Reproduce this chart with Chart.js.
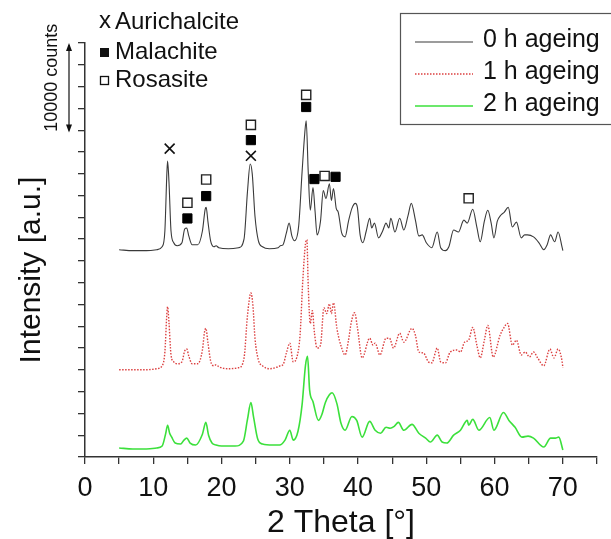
<!DOCTYPE html>
<html>
<head>
<meta charset="utf-8">
<script src="https://cdn.jsdelivr.net/npm/chart.js@4.4.0/dist/chart.umd.min.js"></script>
<style>
  html, body { margin: 0; padding: 0; background: #fff; }
  #wrap { width: 611px; height: 539px; position: relative; }
</style>
</head>
<body>
<div id="wrap"><canvas id="xrdChart"></canvas></div>
<script>
// 2 Theta positions and counts above baseline
const theta0 = [5, 7, 9, 10.5, 11.3, 11.7, 12, 12.1, 12.3, 12.6, 13, 13.5, 14.2, 14.6, 14.9, 15.2, 15.7, 16.5, 17.2, 17.6, 17.75, 18, 18.4, 18.9, 19.2, 19.6, 21, 22.5, 23.3, 23.8, 24.2, 24.5, 24.9, 25.4, 26, 27, 28.3, 28.6, 29, 29.5, 29.9, 30.3, 30.7, 31.3, 31.8, 32.2, 32.4, 32.7, 33, 33.4, 33.7, 34, 34.5, 34.9, 35.3, 35.8, 36.1, 36.4, 36.8, 37.1, 37.6, 38.1, 38.6, 39.1, 39.6, 39.9, 40.3, 40.7, 41.2, 41.7, 42, 42.4, 43, 43.6, 44.1, 44.5, 44.8, 45.4, 46.1, 46.7, 47.3, 47.8, 48.4, 48.9, 49.4, 50, 50.8, 51.6, 52.1, 52.8, 53.3, 54, 54.7, 55.5, 56, 56.8, 57.4, 57.9, 58.5, 59, 59.5, 59.9, 60.4, 60.9, 61.4, 62, 62.6, 63.2, 63.9, 64.4, 64.8, 65.7, 66.5, 67.2, 67.7, 68.2, 68.8, 69.3, 69.9, 70];
const counts0 = [110, 0, 0, 110, 440, 2200, 8800, 10000, 7700, 2200, 880, 550, 880, 2420, 2530, 1650, 660, 660, 2200, 4620, 4840, 3300, 1100, 440, 550, 330, 220, 330, 1320, 6600, 9680, 8580, 3850, 1100, 440, 220, 330, 550, 660, 1980, 3080, 1650, 1100, 2750, 8800, 13200, 14520, 8800, 4510, 7040, 4400, 1760, 3300, 6710, 5830, 7480, 5610, 6930, 4730, 4290, 1980, 1540, 3300, 4730, 5280, 4840, 1760, 880, 2200, 3630, 2530, 3080, 1430, 2200, 3080, 2530, 3630, 2090, 3630, 2310, 3850, 5280, 3410, 1650, 1760, 880, 330, 2090, 330, 0, 440, 2310, 2090, 3410, 3080, 4620, 2640, 990, 3300, 4510, 3080, 1430, 3300, 3960, 4290, 4840, 2640, 3190, 1430, 1760, 1760, 1540, 880, 110, 660, 1760, 990, 2090, 330, 0];

const theta1 = [5, 7, 9, 10.5, 11.3, 11.7, 12, 12.1, 12.3, 12.6, 13, 13.5, 14.2, 14.6, 14.9, 15.2, 15.7, 16.5, 17.2, 17.5, 17.7, 18, 18.4, 18.9, 19.2, 19.6, 21, 22.5, 23.3, 23.8, 24.3, 24.6, 24.9, 25.4, 26, 27, 28.3, 28.6, 29, 29.5, 30, 30.5, 31, 31.5, 31.9, 32.3, 32.5, 32.7, 33, 33.3, 33.6, 34, 34.5, 35, 35.4, 35.8, 36.1, 36.4, 36.9, 37.6, 38.1, 38.6, 39, 39.5, 39.9, 40.6, 41.7, 42.2, 42.5, 43.2, 44.1, 44.6, 45.2, 46.1, 46.7, 47.9, 48.4, 48.9, 49.6, 50.3, 50.8, 51.6, 52.1, 52.8, 53.5, 54.5, 55, 55.6, 56.2, 56.8, 57.4, 57.9, 58.5, 59, 59.8, 60.8, 61.3, 61.9, 62.6, 63.2, 63.9, 64.5, 65.1, 65.7, 66.3, 67.2, 68.1, 68.7, 69.3, 69.9, 70];
const counts1 = [0, 0, 0, 110, 440, 1980, 6380, 7040, 5280, 1650, 880, 660, 880, 2090, 2310, 1540, 660, 660, 2200, 4180, 4620, 3080, 990, 440, 550, 330, 110, 220, 1320, 6050, 8580, 7150, 3520, 1100, 440, 110, 330, 440, 550, 1870, 2970, 880, 1320, 3850, 9900, 14080, 14520, 9350, 5170, 6600, 4180, 2420, 2750, 6930, 6270, 7370, 6270, 7480, 4620, 2420, 1650, 3300, 5280, 6380, 4730, 1320, 3520, 2750, 2970, 1650, 3520, 3520, 2420, 4070, 3080, 4620, 3850, 1980, 1870, 880, 770, 2420, 880, 770, 1980, 2200, 1980, 3080, 3300, 4730, 2750, 1320, 3300, 4950, 1430, 3850, 4620, 5170, 2750, 3300, 1650, 1980, 1430, 1980, 1320, 440, 2310, 1320, 2310, 880, 220];

const theta2 = [5, 7, 9, 10.5, 11.3, 11.8, 12.1, 12.4, 12.7, 13.2, 14, 14.5, 14.9, 15.4, 16.2, 17.2, 17.7, 18.1, 18.6, 19.2, 20, 22, 23.2, 23.8, 24.3, 24.7, 25.3, 26, 27.5, 28.5, 29.3, 30, 30.5, 31.2, 31.8, 32.3, 32.6, 32.9, 33.4, 34.2, 34.7, 35.2, 35.8, 36.2, 36.9, 37.5, 38.1, 39.1, 39.8, 40.6, 41.7, 42.5, 43.3, 44.1, 44.7, 45.3, 45.9, 46.7, 47.9, 48.9, 49.9, 50.6, 51.6, 52.3, 53, 54, 55, 56, 56.2, 56.8, 57.7, 59.3, 59.9, 61.3, 62.1, 63, 64, 64.9, 65.7, 67.2, 68.2, 68.9, 69.4, 70];
const counts2 = [110, 0, 0, 110, 330, 1650, 2640, 1760, 1320, 660, 550, 990, 1210, 660, 440, 1650, 2970, 1540, 660, 440, 330, 330, 880, 3300, 5170, 3520, 1100, 550, 440, 440, 990, 2090, 990, 1980, 4950, 9350, 10340, 6600, 5280, 3190, 3850, 5170, 6050, 6270, 5060, 2860, 2090, 3630, 3190, 1320, 3080, 2090, 1760, 2420, 2310, 2530, 2970, 2090, 2750, 1760, 1210, 770, 1540, 770, 660, 1540, 2090, 3190, 2640, 3300, 2090, 3520, 2090, 4070, 3190, 2420, 1320, 1430, 1210, 220, 1210, 1210, 1320, -110];

// vertical stacking of the three patterns (counts)
const offsets = [21800, 8500, -350];
const seriesNames = ['0 h ageing', '1 h ageing', '2 h ageing'];

// phase reflections (2 Theta, counts)
const aurTheta = [12.4, 24.3];
const aurCounts = [33200, 32400];
const malTheta = [15.0, 17.75, 24.3, 32.4, 33.6, 36.7];
const malCounts = [25400, 27900, 34150, 37850, 29800, 30050];
const rosTheta = [15.0, 17.75, 24.3, 32.4, 35.1, 56.2];
const rosCounts = [27150, 29750, 35850, 39200, 30150, 27650];

const FONT = '"Liberation Sans", Arial, sans-serif';

document.addEventListener('DOMContentLoaded', function() {
    initXrdChart();
});

function toPoints(xs, ys, off) {
    return xs.map((x, i) => ({ x: x, y: ys[i] + off }));
}

function initXrdChart() {
    const ctx = document.getElementById('xrdChart').getContext('2d');

    const lineStyles = [
        { color: '#3a3a3a', width: 1.1, dash: [] },
        { color: '#dc4040', width: 1.4, dash: [1.5, 1.5] },
        { color: '#3be03b', width: 1.6, dash: [] }
    ];
    const patterns = [[theta0, counts0], [theta1, counts1], [theta2, counts2]];

    const datasets = patterns.map((p, i) => ({
        label: seriesNames[i],
        data: toPoints(p[0], p[1], offsets[i]),
        borderColor: lineStyles[i].color,
        borderWidth: lineStyles[i].width,
        borderDash: lineStyles[i].dash,
        pointRadius: 0,
        cubicInterpolationMode: 'monotone',
        fill: false
    }));

    // phase markers
    datasets.push({
        label: 'Aurichalcite',
        data: toPoints(aurTheta, aurCounts, 0),
        showLine: false,
        pointStyle: 'crossRot',
        pointRadius: 7,
        borderColor: '#111',
        borderWidth: 1.6,
        backgroundColor: '#111'
    });
    datasets.push({
        label: 'Malachite',
        data: toPoints(malTheta, malCounts, 0),
        showLine: false,
        pointStyle: 'rect',
        pointRadius: 6.5,
        borderColor: '#000',
        borderWidth: 1,
        backgroundColor: '#000'
    });
    datasets.push({
        label: 'Rosasite',
        data: toPoints(rosTheta, rosCounts, 0),
        showLine: false,
        pointStyle: 'rect',
        pointRadius: 6.5,
        borderColor: '#222',
        borderWidth: 1.4,
        backgroundColor: '#fff'
    });

    const extras = {
        id: 'extras',
        afterDraw(chart) {
            const c = chart.ctx;
            const ys = chart.scales.y;
            c.save();
            c.fillStyle = '#111';
            c.strokeStyle = '#111';

            // y title
            c.font = '30px ' + FONT;
            c.textAlign = 'center';
            c.textBaseline = 'middle';
            c.save();
            c.translate(32, 270);
            c.rotate(-Math.PI / 2);
            c.fillText('Intensity [a.u.]', 0, 0);
            c.restore();

            // 10000 counts scale bar
            const top = ys.getPixelForValue(45000);
            const bot = ys.getPixelForValue(35000);
            c.save();
            c.translate(52, (top + bot) / 2 - 10);
            c.rotate(-Math.PI / 2);
            c.font = '18px ' + FONT;
            c.fillText('10000 counts', 0, 0);
            c.restore();
            c.lineWidth = 1.2;
            c.beginPath();
            c.moveTo(69, top + 2);
            c.lineTo(69, bot - 2);
            c.stroke();
            [[top, 1], [bot, -1]].forEach(([yy, d]) => {
                c.beginPath();
                c.moveTo(69, yy);
                c.lineTo(66, yy + 8 * d);
                c.lineTo(72, yy + 8 * d);
                c.closePath();
                c.fill();
            });

            // phase key
            c.font = '24px ' + FONT;
            c.textAlign = 'left';
            c.fillText('x', 99, 21);
            c.fillText('Aurichalcite', 115, 22);
            c.fillRect(100, 48, 9, 9);
            c.fillText('Malachite', 115, 52);
            c.lineWidth = 1.3;
            c.strokeRect(100.5, 76.5, 8, 8);
            c.fillText('Rosasite', 115, 80);

            // series legend box
            c.strokeStyle = '#555';
            c.lineWidth = 1.2;
            c.strokeRect(400.5, 13.5, 240, 111);
            c.font = '25px ' + FONT;
            chart.data.datasets.slice(0, 3).forEach((ds, i) => {
                const yy = 40 + i * 32;
                c.save();
                c.strokeStyle = ds.borderColor;
                c.lineWidth = ds.borderWidth;
                c.setLineDash(ds.borderDash);
                c.beginPath();
                c.moveTo(415, yy + 2);
                c.lineTo(473, yy + 2);
                c.stroke();
                c.restore();
                c.fillText(ds.label, 483, yy);
            });
            c.restore();
        }
    };

    new Chart(ctx, {
        type: 'line',
        data: { datasets: datasets },
        options: {
            responsive: true,
            maintainAspectRatio: false,
            animation: false,
            layout: { padding: { top: 43, right: 14, left: 0, bottom: 0 } },
            plugins: {
                legend: { display: false },
                tooltip: { enabled: false }
            },
            scales: {
                x: {
                    type: 'linear',
                    min: 0,
                    max: 75,
                    afterFit: s => { s.height = 82; },
                    border: { color: '#333', width: 1.5 },
                    grid: { drawOnChartArea: false, tickLength: 7, color: '#333', lineWidth: 1.3 },
                    ticks: {
                        stepSize: 5,
                        padding: 8,
                        color: '#111',
                        font: { family: FONT, size: 27 },
                        maxRotation: 0,
                        autoSkip: false,
                        callback: v => (v % 10 === 0 && v <= 70) ? String(v) : ''
                    },
                    title: {
                        display: true,
                        text: '2 Theta [°]',
                        color: '#111',
                        font: { family: FONT, size: 32, lineHeight: 1 },
                        padding: { top: 0, bottom: 0 }
                    }
                },
                y: {
                    type: 'linear',
                    min: -1250,
                    max: 45000,
                    afterFit: s => { s.width = 85; },
                    border: { color: '#333', width: 1.5 },
                    grid: { drawOnChartArea: false, tickLength: 7, color: '#333', lineWidth: 1.3 },
                    ticks: {
                        stepSize: 2500,
                        includeBounds: false,
                        autoSkip: false,
                        callback: () => ''
                    }
                }
            }
        },
        plugins: [extras]
    });
}
</script>
</body>
</html>
